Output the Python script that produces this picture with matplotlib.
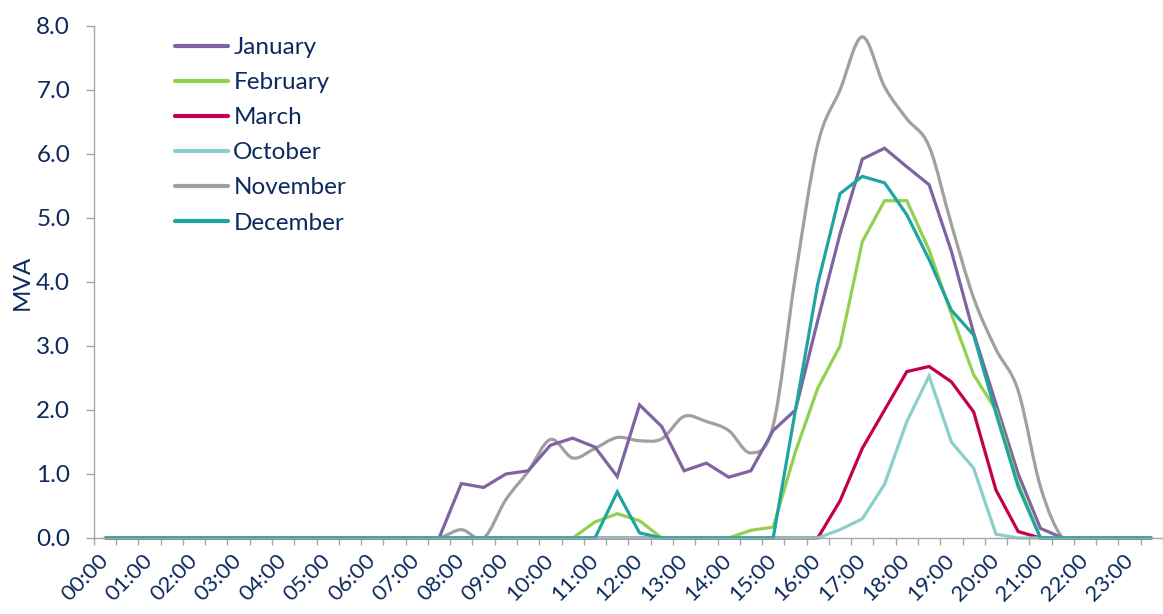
import matplotlib
matplotlib.use("Agg")
import matplotlib.pyplot as plt
from matplotlib.path import Path
from matplotlib.patches import PathPatch, Rectangle
from matplotlib.lines import Line2D
import numpy as np

plt.rcParams['font.family'] = ['Lato', 'DejaVu Sans']

# half-hourly slots, 00:00 .. 23:30
slots = np.arange(48)
hour_labels = ["%02d:00" % h for h in range(24)]

january = [0, 0, 0, 0, 0, 0, 0, 0, 0, 0, 0, 0, 0, 0, 0, 0,
           0.85, 0.79, 1.0, 1.05, 1.45, 1.56, 1.42, 0.96, 2.08, 1.74, 1.05, 1.17,
           0.95, 1.05, 1.68, 2.0, 3.4, 4.75, 5.92, 6.09, 5.8, 5.52, 4.48, 3.2,
           2.1, 1.0, 0.15, 0, 0, 0, 0, 0]
february = [0, 0, 0, 0, 0, 0, 0, 0, 0, 0, 0, 0, 0, 0, 0, 0, 0, 0, 0, 0, 0, 0,
            0.25, 0.38, 0.27, 0, 0, 0, 0, 0.12, 0.17, 1.35, 2.34, 3.0, 4.63,
            5.27, 5.27, 4.5, 3.5, 2.55, 2.0, 0.85, 0, 0, 0, 0, 0, 0]
march = [0, 0, 0, 0, 0, 0, 0, 0, 0, 0, 0, 0, 0, 0, 0, 0, 0, 0, 0, 0, 0, 0,
         0, 0, 0, 0, 0, 0, 0, 0, 0, 0, 0,
         0.58, 1.4, 2.0, 2.6, 2.68, 2.44, 1.97, 0.75, 0.1, 0, 0, 0, 0, 0, 0]
october = [0, 0, 0, 0, 0, 0, 0, 0, 0, 0, 0, 0, 0, 0, 0, 0, 0, 0, 0, 0, 0, 0,
           0, 0, 0, 0, 0, 0, 0, 0, 0, 0, 0,
           0.13, 0.3, 0.84, 1.82, 2.53, 1.5, 1.09, 0.06, 0, 0, 0, 0, 0, 0, 0]
november = [0, 0, 0, 0, 0, 0, 0, 0, 0, 0, 0, 0, 0, 0, 0, 0,
            0.13, 0, 0.6, 1.04, 1.54, 1.25, 1.4, 1.57, 1.52, 1.55, 1.9, 1.82,
            1.68, 1.33, 1.76, 4.1, 6.15, 7.0, 7.83, 7.05, 6.55, 6.12, 4.9, 3.75,
            2.95, 2.3, 0.8, 0, 0, 0, 0, 0]
december = [0, 0, 0, 0, 0, 0, 0, 0, 0, 0, 0, 0, 0, 0, 0, 0, 0, 0, 0, 0, 0, 0, 0,
            0.72, 0.08, 0, 0, 0, 0, 0, 0, 2.0, 3.97, 5.38, 5.65, 5.55, 5.05,
            4.35, 3.56, 3.17, 1.95, 0.8, 0, 0, 0, 0, 0, 0]

series = [
    ("January", january, '#8064A2', False),
    ("February", february, '#92D050', False),
    ("March", march, '#C4004E', False),
    ("October", october, '#8ACFCA', False),
    ("November", november, '#A0A0A0', True),
    ("December", december, '#1FA59F', False),
]

navy = '#0D2A5C'
grey = '#A6A6A6'
fsize = 17.5


def smooth_path(x, y):
    # bezier through the points, like Excel's "smoothed line"
    pts = np.column_stack([x, y]).astype(float)
    n = len(pts)
    verts = [pts[0]]
    codes = [Path.MOVETO]
    for i in range(n - 1):
        p0 = pts[max(i - 1, 0)]
        p1 = pts[i]
        p2 = pts[i + 1]
        p3 = pts[min(i + 2, n - 1)]
        verts += [p1 + (p2 - p0) / 6, p2 - (p3 - p1) / 6, p2]
        codes += [Path.CURVE4] * 3
    return Path(verts, codes)


fig = plt.figure(figsize=(11.63, 6.14), dpi=100)
ax = fig.add_axes([93.8 / 1163, 76 / 614, 1 - 93.8 / 1163, 512 / 614])

handles = []
for name, vals, color, smooth in series:
    if smooth:
        patch = PathPatch(smooth_path(slots, vals), facecolor='none', edgecolor=color,
                          lw=2.3, capstyle='round', joinstyle='round')
        ax.add_patch(patch)
        # keep the small spline overshoot from dipping under the axis
        patch.set_clip_path(Rectangle((-0.5, -0.035), 49, 9, transform=ax.transData))
    else:
        ax.plot(slots, vals, color=color, lw=2.3, clip_on=False,
                solid_joinstyle='miter', solid_capstyle='butt')
    handles.append(Line2D([], [], color=color, lw=3, solid_capstyle='round'))

ax.set_xlim(-0.5, 46.81)
ax.set_ylim(0, 8)

for s in ['top', 'right']:
    ax.spines[s].set_visible(False)
for s in ['left', 'bottom']:
    ax.spines[s].set_color(grey)
    ax.spines[s].set_linewidth(1)

ax.set_yticks(np.arange(0, 9, 1))
ax.set_yticklabels(["%.1f" % v for v in np.arange(0, 9, 1)])
ax.tick_params(axis='y', direction='out', length=6, width=1, color=grey,
               labelsize=fsize, labelcolor=navy, pad=11)

ax.set_xticks(slots[::2])
ax.set_xticklabels(hour_labels)
ax.set_xticks(np.arange(-0.5, 48, 1), minor=True)
ax.tick_params(axis='x', which='major', length=0, labelsize=16, labelcolor=navy, pad=14)
ax.tick_params(axis='x', which='minor', direction='out', length=5, width=1, color=grey)
for lab in ax.get_xticklabels():
    lab.set_rotation(45)
    lab.set_ha('right')
    lab.set_va('center')
    lab.set_rotation_mode('anchor')

ax.set_ylabel("MVA", fontsize=fsize, color=navy)
ax.yaxis.set_label_coords(-0.057, 0.5)

ax.legend(handles, [s[0] for s in series], loc='upper left',
          bbox_to_anchor=(175 / 1163, 1 - 37 / 614), bbox_transform=fig.transFigure,
          frameon=False, fontsize=fsize, labelcolor=navy, handlelength=2.2,
          handletextpad=0.2, labelspacing=0.58, borderpad=0, borderaxespad=0)

fig.savefig("out.png", dpi=100)
